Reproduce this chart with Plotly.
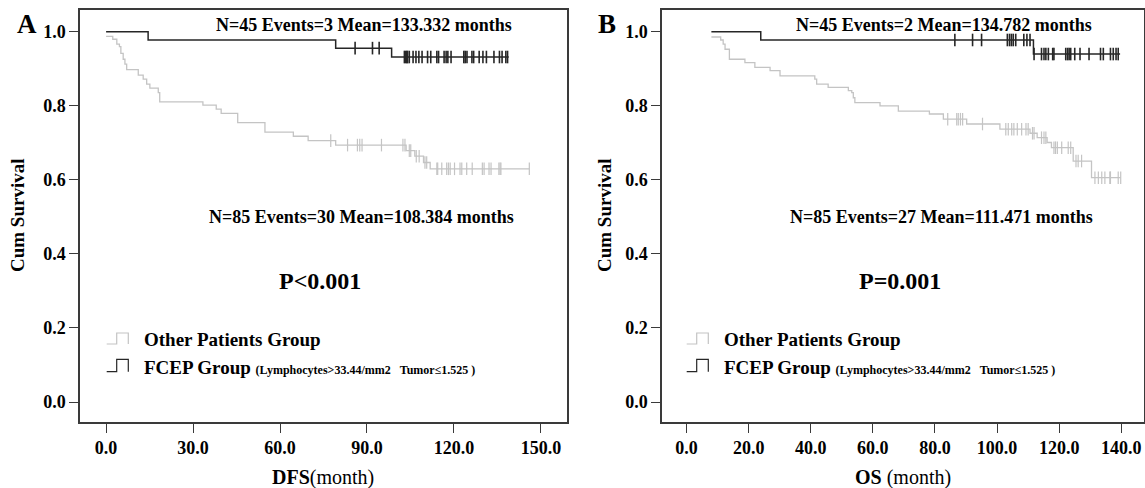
import numpy as np
import plotly.graph_objects as go

# ---------------- data ----------------
# Panel A: DFS
dfs_fcep_t = [0.0, 14.5, 79.2, 98.5, 138.9]
dfs_fcep_s = [1.000, 0.978, 0.956, 0.932, 0.932]
dfs_fcep_cens = [85.9, 91.9, 94.2, 102.9, 103.3, 103.7, 104.0, 104.6, 105.9, 106.9,
                 107.9, 109.0, 110.9, 112.0, 114.1, 114.7, 116.6, 117.3, 117.9, 119.0,
                 123.4, 123.9, 124.5, 126.2, 126.8, 128.7, 130.0, 131.2, 133.8, 135.7,
                 136.6, 137.9, 138.5]

dfs_other_t = [0.0, 2.3, 3.7, 4.6, 5.1, 5.9, 6.5, 7.1, 11.1, 12.8, 14.0, 15.1, 18.0,
               18.5, 33.4, 38.0, 39.7, 45.4, 54.8, 64.6, 69.7, 79.2, 103.5, 106.5,
               109.5, 111.8, 146.0]
dfs_other_s = [0.988, 0.980, 0.967, 0.960, 0.942, 0.926, 0.913, 0.898, 0.883, 0.872,
               0.859, 0.848, 0.836, 0.811, 0.802, 0.791, 0.780, 0.755, 0.729, 0.718,
               0.706, 0.694, 0.679, 0.664, 0.647, 0.630, 0.630]
dfs_other_cens = [77.5, 83.3, 86.7, 87.5, 88.3, 95.0, 102.4, 103.1, 104.6, 105.1, 107.0,
                  108.0, 110.0, 110.6, 114.1, 114.4, 115.8, 117.5, 118.1, 118.7, 120.2,
                  122.1, 122.7, 124.4, 126.3, 129.8, 130.4, 132.1, 132.8, 135.5, 135.9,
                  136.2, 146.0]

# Panel B: OS
os_fcep_t = [8.0, 23.9, 111.7, 139.6]
os_fcep_s = [1.000, 0.978, 0.940, 0.940]
os_fcep_cens = [86.4, 92.1, 95.0, 103.3, 104.0, 104.6, 105.2, 106.0, 108.6, 109.6, 110.6,
                111.9, 114.3, 115.1, 115.7, 116.5, 117.9, 118.3, 122.1, 122.7, 123.2,
                123.7, 125.0, 126.7, 129.6, 133.3, 134.2, 136.5, 137.4, 138.3, 139.0]

os_other_t = [8.0, 11.0, 11.8, 12.4, 13.8, 18.8, 22.0, 26.9, 30.1, 41.3, 41.9, 45.6,
              52.1, 53.2, 53.7, 54.2, 62.3, 68.2, 78.2, 82.7, 90.2, 100.9, 110.6, 112.9,
              116.1, 117.5, 124.5, 130.4, 139.8]
os_other_s = [0.986, 0.978, 0.967, 0.953, 0.926, 0.917, 0.904, 0.895, 0.881, 0.872,
              0.859, 0.850, 0.841, 0.836, 0.822, 0.809, 0.800, 0.786, 0.778, 0.764,
              0.751, 0.737, 0.726, 0.714, 0.701, 0.687, 0.651, 0.606, 0.606]
os_other_cens = [84.1, 87.0, 87.5, 88.2, 88.9, 95.3, 102.8, 103.6, 104.7, 105.4, 106.5,
                 107.9, 109.3, 110.0, 111.4, 111.9, 114.3, 115.1, 115.7, 118.3, 118.8,
                 119.4, 120.8, 122.9, 123.7, 125.4, 126.1, 127.2, 131.5, 132.6, 133.7,
                 134.7, 136.3, 136.5, 139.0, 139.8]

dfs_ticks = [0, 30, 60, 90, 120, 150]
os_ticks = [0, 20, 40, 60, 80, 100, 120, 140]
y_ticks = [0.0, 0.2, 0.4, 0.6, 0.8, 1.0]

stats_A = ["N=45 Events=3 Mean=133.332 months", "N=85 Events=30 Mean=108.384 months"]
stats_B = ["N=45 Events=2 Mean=134.782 months", "N=85 Events=27 Mean=111.471 months"]
pvals = ["P&lt;0.001", "P=0.001"]

# ---------------- figure ----------------
W, H = 1145, 488
def px(x):
    return x / W
def py(y):
    return 1 - y / H

BLACK = "#262626"
GRAY = "#c4c4c4"
AXC = "#3a3a3a"
SERIF = "Liberation Serif"

fig = go.Figure()

def step_at(ts, ss, c):
    idx = np.searchsorted(np.asarray(ts), np.asarray(c), side="right") - 1
    idx = np.clip(idx, 0, len(ss) - 1)
    return np.asarray(ss)[idx]

def add_km(t, s, cens, color, width, mwidth, xa, ya):
    fig.add_trace(go.Scatter(x=t, y=s, mode="lines",
                             line=dict(color=color, width=width, shape="hv"),
                             xaxis=xa, yaxis=ya, showlegend=False, hoverinfo="skip"))
    fig.add_trace(go.Scatter(x=cens, y=step_at(t, s, cens), mode="markers",
                             marker=dict(symbol="line-ns", size=9,
                                         line=dict(color=color, width=mwidth)),
                             xaxis=xa, yaxis=ya, showlegend=False, hoverinfo="skip"))

add_km(dfs_other_t, dfs_other_s, dfs_other_cens, GRAY, 1.3, 1.2, "x", "y")
add_km(dfs_fcep_t, dfs_fcep_s, dfs_fcep_cens, BLACK, 1.5, 1.6, "x", "y")
add_km(os_other_t, os_other_s, os_other_cens, GRAY, 1.3, 1.2, "x2", "y2")
add_km(os_fcep_t, os_fcep_s, os_fcep_cens, BLACK, 1.5, 1.6, "x2", "y2")

tickfont = dict(family=SERIF, size=18, color="black", weight="bold")
common = dict(showline=True, mirror=True, linecolor=AXC, linewidth=1.5, ticks="outside",
              ticklen=9, tickwidth=1, tickcolor=AXC, showgrid=False, zeroline=False,
              tickfont=tickfont, fixedrange=True)
ydom = [py(422), py(10)]

fig.update_layout(
    width=W, height=H, margin=dict(l=0, r=0, t=0, b=0),
    paper_bgcolor="white", plot_bgcolor="white",
    xaxis=dict(domain=[px(80), px(567)], range=[-9.0, 159.0], tickvals=dfs_ticks,
               ticktext=[f"{v:.1f}" for v in dfs_ticks], anchor="y", **common),
    yaxis=dict(domain=ydom, range=[-0.054, 1.059], tickvals=y_ticks,
               ticktext=[f"{v:.1f}" for v in y_ticks], anchor="x", **common),
    xaxis2=dict(domain=[px(662), px(1144)], range=[-7.9, 147.3], tickvals=os_ticks,
                ticktext=[f"{v:.1f}" for v in os_ticks], anchor="y2", **common),
    yaxis2=dict(domain=ydom, range=[-0.054, 1.059], tickvals=y_ticks,
                ticktext=[f"{v:.1f}" for v in y_ticks], anchor="x2", **common),
)

ann = []
def text(x, y, t, size, xanchor="center", angle=0):
    ann.append(dict(x=px(x), y=py(y), xref="paper", yref="paper", text=t, showarrow=False,
                    xanchor=xanchor, yanchor="middle", textangle=angle,
                    font=dict(family=SERIF, size=size, color="black")))

shapes = []
def glyph(x0, ytop, ybot, color):
    xm, x1 = x0 + 10, x0 + 21.6
    path = (f"M {px(x0)},{py(ybot)} L {px(xm)},{py(ybot)} L {px(xm)},{py(ytop)} "
            f"L {px(x1)},{py(ytop)} L {px(x1)},{py(ybot)}")
    shapes.append(dict(type="path", path=path, xref="paper", yref="paper",
                       line=dict(color=color, width=1.2)))

for dx, lab, stats, pv, xt in [(0, "A", stats_A, pvals[0], "<b>DFS</b>(month)"),
                               (580, "B", stats_B, pvals[1], "<b>OS</b> (month)")]:
    text(27 + dx, 24, f"<b>{lab}</b>", 27)
    text(364 + dx, 25, f"<b>{stats[0]}</b>", 18)
    text(361 + dx, 217, f"<b>{stats[1]}</b>", 18)
    text(320 + dx, 281, f"<b>{pv}</b>", 24)
    text(142 + dx, 339, "<b>Other Patients Group</b>", 19, xanchor="left")
    text(142 + dx, 367, "<b>FCEP Group</b> <span style='font-size:12px'><b>"
         "(Lymphocytes&gt;33.44/mm2\u00a0\u00a0\u00a0Tumor\u22641.525 )</b></span>",
         19, xanchor="left")
    text(17 + dx + (7 if dx else 0), 215, "<b>Cum Survival</b>", 19, angle=-90)
    text(323 + dx, 477, xt, 20)
    glyph(106.7 + dx, 333, 344, GRAY)
    glyph(106.7 + dx, 359.3, 371.7, BLACK)

fig.update_layout(annotations=ann, shapes=shapes)
fig.write_html("out.html", config={"displayModeBar": False},
               post_script="document.body.style.margin='0';document.body.style.padding='0';")
